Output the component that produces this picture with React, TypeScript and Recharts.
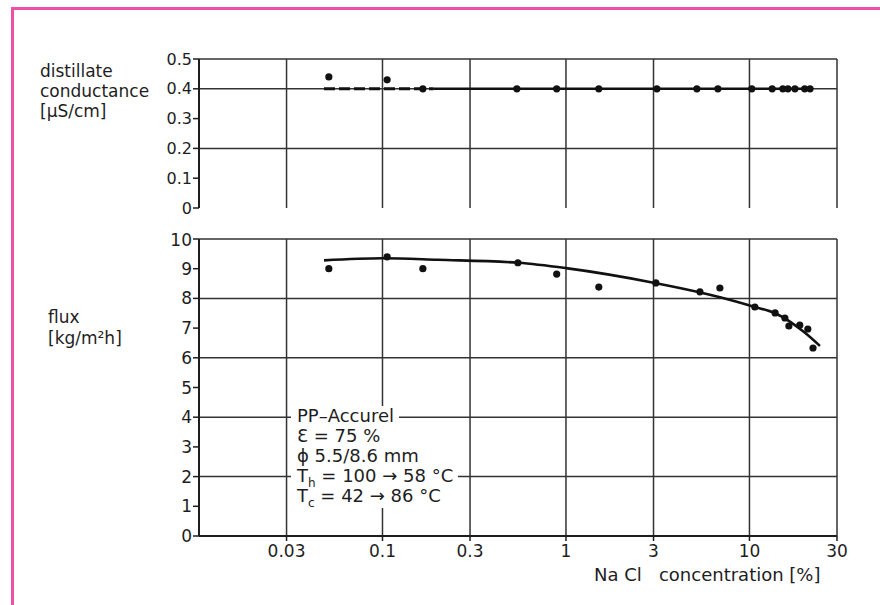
import { ComposedChart, XAxis, YAxis, CartesianGrid, ReferenceLine, Scatter, Line } from 'recharts';

// x axis (log): NaCl concentration [%]
const concTicks = [0.03, 0.1, 0.3, 1, 3, 10, 30];

// top panel: distillate conductance
const condTicks = [0, 0.1, 0.2, 0.3, 0.4, 0.5];
const condGridLines = [0.2, 0.4, 0.5];
const condConc = [0.051, 0.106, 0.166, 0.54, 0.89, 1.51, 3.13, 5.17, 6.73, 10.3, 13.3, 15.2, 16.2, 17.7, 20.0, 21.4];
const condValues = [0.44, 0.43, 0.4, 0.4, 0.4, 0.4, 0.4, 0.4, 0.4, 0.4, 0.4, 0.4, 0.4, 0.4, 0.4, 0.4];
const condDashedConc = [0.048, 0.19];
const condSolidConc = [0.19, 22];
const condLevel = 0.4;

// bottom panel: flux
const fluxTicks = [0, 1, 2, 3, 4, 5, 6, 7, 8, 9, 10];
const fluxGridLines = [2, 4, 6, 8, 10];
const fluxConc = [0.051, 0.106, 0.166, 0.547, 0.89, 1.51, 3.09, 5.37, 6.9, 10.7, 13.8, 15.6, 16.4, 18.8, 20.8, 22.2];
const fluxValues = [9.0, 9.4, 9.0, 9.2, 8.82, 8.38, 8.52, 8.22, 8.35, 7.71, 7.51, 7.34, 7.07, 7.1, 6.97, 6.33];
const fitConc = [0.048, 0.1, 0.2, 0.55, 1.0, 3.0, 5.4, 7.0, 10.7, 13.8, 20, 24.2];
const fitFlux = [9.28, 9.35, 9.3, 9.2, 9.02, 8.53, 8.2, 8.03, 7.71, 7.5, 6.85, 6.4];

const noteLines = ['PP–Accurel', 'Ɛ = 75 %', 'ϕ 5.5/8.6 mm'];

const condPoints = condConc.map((x, i) => ({ x, y: condValues[i] }));
const condDashed = condDashedConc.map(x => ({ x, y: condLevel }));
const condSolid = condSolidConc.map(x => ({ x, y: condLevel }));
const fluxPoints = fluxConc.map((x, i) => ({ x, y: fluxValues[i] }));
const fluxFit = fitConc.map((x, i) => ({ x, y: fitFlux[i] }));

const INK = '#1e1e1e';
const GRID = '#333';
const FONT = "'DejaVu Sans', sans-serif";
const tickStyle = { fill: INK, fontSize: 16, fontFamily: FONT };

const Dot = (props: any) => <circle cx={props.cx} cy={props.cy} r={3.6} fill="#111" />;

const lineBox = { display: 'table', background: '#fff', paddingLeft: 6, paddingRight: 5, height: 20, whiteSpace: 'nowrap' as const };

export default function App() {
  return (
    <div style={{ position: 'absolute', left: 0, top: 0, width: 880, height: 605, background: '#fff', fontFamily: FONT, color: INK, overflow: 'hidden' }}>
      {/* pink frame */}
      <div style={{ position: 'absolute', left: 11, top: 7, width: 866, height: 620, borderLeft: '3px solid #ee4fa6', borderTop: '3px solid #ee4fa6', borderRight: '1px solid #f4b6d6' }} />

      <div style={{ position: 'absolute', left: 0, top: 0 }}>
        <ComposedChart width={880} height={230} margin={{ top: 59, right: 43, bottom: 22, left: 139 }}>
          <XAxis dataKey="x" type="number" scale="log" domain={[0.01, 30]} allowDataOverflow ticks={concTicks}
            tick={false} tickLine={false} height={0} axisLine={{ stroke: INK, strokeWidth: 2 }} />
          <YAxis type="number" domain={[0, 0.5]} ticks={condTicks} width={60} tickSize={6} tickMargin={1}
            tick={tickStyle} tickLine={{ stroke: INK, strokeWidth: 1.5 }} axisLine={{ stroke: INK, strokeWidth: 2 }}
            tickFormatter={(v: number) => (v === 0 ? '0' : String(v))} />
          {concTicks.map(v => (
            <ReferenceLine key={'x' + v} x={v} stroke={GRID} strokeWidth={1.5} />
          ))}
          {condGridLines.map(v => (
            <ReferenceLine key={v} y={v} stroke={GRID} strokeWidth={1.5} />
          ))}
          <Line data={condDashed} dataKey="y" stroke="#111" strokeWidth={3} strokeDasharray="11 4" dot={false} isAnimationActive={false} />
          <Line data={condSolid} dataKey="y" stroke="#111" strokeWidth={2.6} dot={false} isAnimationActive={false} />
          <Scatter data={condPoints} dataKey="y" shape={Dot} isAnimationActive={false} />
        </ComposedChart>
      </div>

      <div style={{ position: 'absolute', left: 0, top: 230 }}>
        <ComposedChart width={880} height={375} margin={{ top: 9, right: 43, bottom: 39, left: 139 }}>
          <CartesianGrid horizontal={false} stroke={GRID} strokeWidth={1.5} />
          <XAxis dataKey="x" type="number" scale="log" domain={[0.01, 30]} allowDataOverflow ticks={concTicks}
            height={30} tickSize={5} tickMargin={4} tick={{ ...tickStyle, fontSize: 17 }}
            tickLine={{ stroke: INK, strokeWidth: 1.5 }} axisLine={{ stroke: INK, strokeWidth: 2 }}
            tickFormatter={(v: number) => String(v)} />
          <YAxis type="number" domain={[0, 10]} ticks={fluxTicks} width={60} tickSize={6} tickMargin={1}
            tick={{ ...tickStyle, fontSize: 17 }} tickLine={{ stroke: INK, strokeWidth: 1.5 }} axisLine={{ stroke: INK, strokeWidth: 2 }} />
          {fluxGridLines.map(v => (
            <ReferenceLine key={v} y={v} stroke={GRID} strokeWidth={1.5} />
          ))}
          <Line data={fluxFit} dataKey="y" type="monotone" stroke="#111" strokeWidth={2.6} dot={false} isAnimationActive={false} />
          <Scatter data={fluxPoints} dataKey="y" shape={Dot} isAnimationActive={false} />
        </ComposedChart>
      </div>

      {/* axis titles */}
      <div style={{ position: 'absolute', left: 40, top: 61, fontSize: 17, lineHeight: '20px' }}>
        distillate<br />conductance<br />[μS/cm]
      </div>
      <div style={{ position: 'absolute', left: 48, top: 307, fontSize: 17, lineHeight: '21px' }}>
        flux<br />[kg/m²h]
      </div>
      <div style={{ position: 'absolute', left: 594, top: 564, fontSize: 18, whiteSpace: 'pre' }}>
        {'Na Cl   concentration [%]'}
      </div>

      {/* membrane / conditions note */}
      <div style={{ position: 'absolute', left: 291, top: 406, fontSize: 18, lineHeight: '20px' }}>
        {noteLines.map(t => (
          <div key={t} style={lineBox}>{t}</div>
        ))}
        <div style={lineBox}>T<sub style={{ fontSize: 12, lineHeight: 0 }}>h</sub> = 100 → 58 °C</div>
        <div style={{ ...lineBox, height: 22 }}>T<sub style={{ fontSize: 12, lineHeight: 0 }}>c</sub> = 42 → 86 °C</div>
      </div>
    </div>
  );
}
